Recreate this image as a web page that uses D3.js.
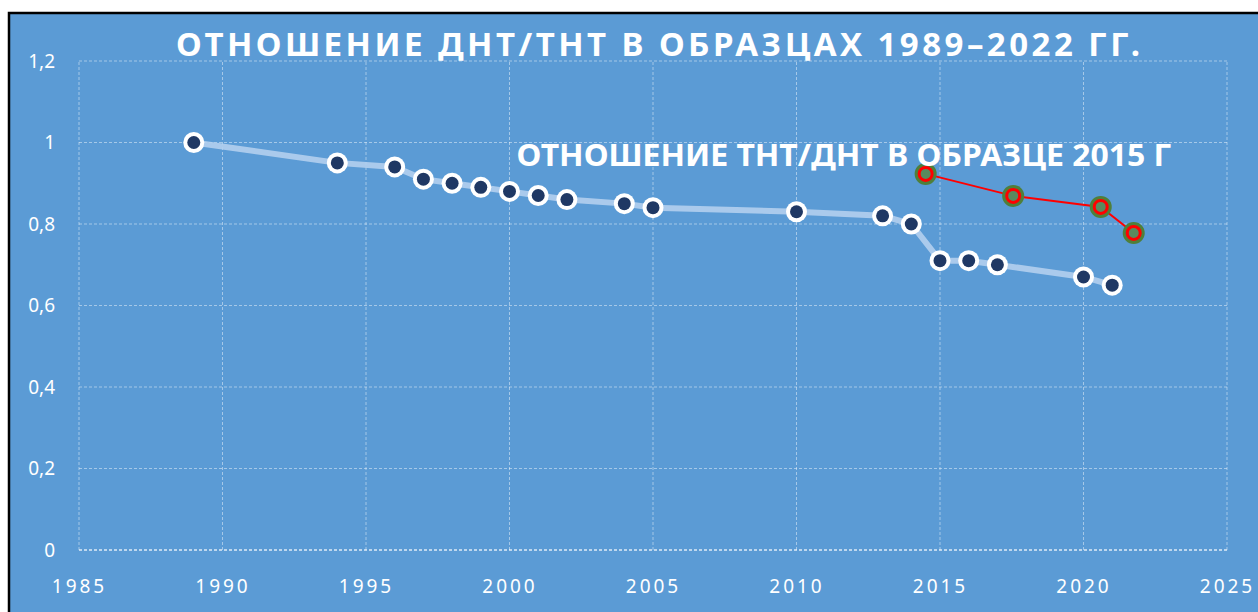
<!DOCTYPE html>
<html>
<head>
<meta charset="utf-8">
<script src="https://cdn.jsdelivr.net/npm/d3@7"></script>
<style>
  body { margin: 0; background: #fff; }
  svg { display: block; }
  text { font-family: "Noto Sans", "Open Sans", sans-serif; fill: #fff; }
</style>
</head>
<body>
<svg id="chart" width="1258" height="612"></svg>
<script>
// main series: years and ratio
let years = [1989, 1994, 1996, 1997, 1998, 1999, 2000, 2001, 2002, 2004, 2005, 2010, 2013, 2014, 2015, 2016, 2017, 2020, 2021]
let ratios = [1.0, 0.95, 0.94, 0.91, 0.90, 0.89, 0.88, 0.87, 0.86, 0.85, 0.84, 0.83, 0.82, 0.80, 0.71, 0.71, 0.70, 0.67, 0.65]

// 2015 sample series
let sampleYears = [2014.5, 2017.55, 2020.6, 2021.75]
let sampleRatios = [0.923, 0.869, 0.842, 0.778]

let xTicks = [1985, 1990, 1995, 2000, 2005, 2010, 2015, 2020, 2025]
let yTicks = [0, 0.2, 0.4, 0.6, 0.8, 1, 1.2]

let titleText = "ОТНОШЕНИЕ ДНТ/ТНТ В ОБРАЗЦАХ 1989–2022 ГГ."
let labelText = "ОТНОШЕНИЕ ТНТ/ДНТ В ОБРАЗЦЕ 2015 Г"

let svg = d3.select("#chart")

// frame
svg.append("rect")
  .attr("x", 9).attr("y", 13)
  .attr("width", 1258).attr("height", 612)
  .attr("fill", "#5b9bd5")
  .attr("stroke", "#000").attr("stroke-width", 2.5)

let margin = { left: 79, right: 31, top: 61, bottom: 62 }
let x = d3.scaleLinear().domain([1985, 2025]).range([margin.left, 1258 - margin.right])
let y = d3.scaleLinear().domain([0, 1.2]).range([612 - margin.bottom, margin.top])

// grid
let grid = svg.append("g")
grid.selectAll(".vg").data(xTicks).enter().append("line")
  .attr("x1", d => x(d)).attr("x2", d => x(d))
  .attr("y1", y(0)).attr("y2", y(1.2))
  .attr("stroke", "rgba(255,255,255,0.45)")
  .attr("stroke-dasharray", "3,2")
grid.selectAll(".hg").data(yTicks).enter().append("line")
  .attr("x1", x(1985)).attr("x2", x(2025))
  .attr("y1", d => y(d)).attr("y2", d => y(d))
  .attr("stroke", d => d === 0 ? "rgba(255,255,255,0.6)" : "rgba(255,255,255,0.45)")
  .attr("stroke-width", d => d === 0 ? 2 : 1)
  .attr("stroke-dasharray", "3,2")

// axes labels
let axisX = d3.axisBottom(x).tickValues(xTicks).tickSize(0).tickPadding(30)
  .tickFormat(d3.format("d"))
svg.append("g")
  .attr("transform", `translate(0,${y(0)})`)
  .call(axisX)
  .call(g => g.select(".domain").remove())
  .selectAll("text")
  .style("font-size", "19px")
  .style("letter-spacing", "3px")
  .attr("fill", "#fff")

let axisY = d3.axisLeft(y).tickValues(yTicks).tickSize(0).tickPadding(24)
  .tickFormat(d => d3.format("")(d).replace(".", ","))
svg.append("g")
  .attr("transform", `translate(${x(1985)},0)`)
  .call(axisY)
  .call(g => g.select(".domain").remove())
  .selectAll("text")
  .style("font-size", "19px")
  .attr("fill", "#fff")

// main line
let mainData = years.map((d, i) => ({ year: d, value: ratios[i] }))
let line = d3.line().x(d => x(d.year)).y(d => y(d.value))
svg.append("path")
  .datum(mainData)
  .attr("d", line)
  .attr("fill", "none")
  .attr("stroke", "#b2cfee")
  .attr("stroke-width", 6)
  .attr("opacity", 0.9)

let pts = svg.append("g").selectAll("g").data(mainData).enter().append("g")
  .attr("transform", d => `translate(${x(d.year)},${y(d.value)})`)
pts.append("circle").attr("r", 10.5).attr("fill", "#fff")
pts.append("circle").attr("r", 6.5).attr("fill", "#1f3864")

// 2015 sample line
let sampleData = sampleYears.map((d, i) => ({ year: d, value: sampleRatios[i] }))
svg.append("path")
  .datum(sampleData)
  .attr("d", line)
  .attr("fill", "none")
  .attr("stroke", "#ff0000")
  .attr("stroke-width", 2)

let sp = svg.append("g").selectAll("g").data(sampleData).enter().append("g")
  .attr("transform", d => `translate(${x(d.year)},${y(d.value)})`)
sp.append("circle").attr("r", 11).attr("fill", "#4f7f3a")
sp.append("circle").attr("r", 6.5).attr("fill", "#5a8a5e")
  .attr("stroke", "#ff0000").attr("stroke-width", 3)

// title
svg.append("text")
  .attr("x", 658).attr("y", 56)
  .attr("text-anchor", "middle")
  .attr("textLength", 964)
  .attr("lengthAdjust", "spacing")
  .style("font-size", "33px")
  .style("font-weight", "bold")
  .text(titleText)

// series label
svg.append("text")
  .attr("x", 844).attr("y", 166)
  .attr("text-anchor", "middle")
  .attr("textLength", 655)
  .attr("lengthAdjust", "spacingAndGlyphs")
  .style("font-size", "31px")
  .style("font-weight", "bold")
  .text(labelText)
</script>
</body>
</html>
